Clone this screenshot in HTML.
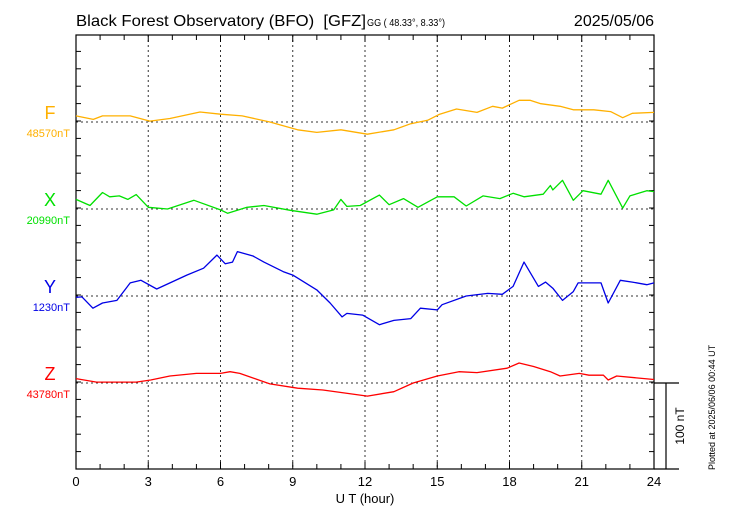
<!DOCTYPE html>
<html><head><meta charset="utf-8"><style>
html,body{margin:0;padding:0;background:#fff;}
svg{display:block;font-family:"Liberation Sans",sans-serif;}
</style></head><body>
<svg id="chart" width="730" height="520" viewBox="0 0 730 520">
<text x="76" y="26" font-size="16" textLength="290" lengthAdjust="spacingAndGlyphs" xml:space="preserve">Black Forest Observatory (BFO)  [GFZ]</text>
<text x="367" y="26" font-size="10" textLength="78" lengthAdjust="spacingAndGlyphs">GG ( 48.33°,  8.33°)</text>
<text x="654" y="26" font-size="16" text-anchor="end">2025/05/06</text>
<text x="365" y="503" font-size="13" text-anchor="middle">U T (hour)</text>
<text transform="translate(684,426) rotate(-90)" font-size="12" text-anchor="middle">100 nT</text>
<text transform="translate(715,470) rotate(-90)" font-size="9">Plotted at 2025/06/06 00:44 UT</text>
</svg>
<script>
const hoursF=[0,0.72,1.1,2.25,3.07,3.9,5.15,6,6.9,8.05,9.2,10,11,12.1,13.2,13.9,14.6,15.1,15.8,16.65,17.3,17.7,18.4,18.85,19.3,20.1,20.65,21.5,22.2,22.7,23.1,24];
const valsF=[7,3,7,7,1,4,11.5,9,7,0,-9,-12,-9,-14,-9,-2,2,9,15,11,18,16,25,25,21,18,14,14,12,5,10,11];
const hoursX=[0,0.58,1.1,1.4,1.8,2.15,2.5,3,3.8,4.9,6,6.3,7.1,7.8,8.9,10,10.7,11,11.25,11.8,12.6,13,13.6,14.2,15,15.7,16.2,16.9,17.6,18.15,18.6,19.4,19.7,19.8,20.2,20.65,21.05,21.8,22.1,22.7,23,23.7,24];
const valsX=[11,4,19,14,15,11,16.5,2,0,10,-1,-5,2,4,-1.5,-6,-1,11,3,4,16,5,12,2,14,14,3.5,15,12,18,14,17,27,22,33,10,21,17,33,1,15,21,20];
const hoursY=[0,0.25,0.7,1.1,1.7,2.25,2.7,3.35,4.6,5.3,5.85,6.2,6.5,6.7,7.35,7.8,8.6,9,10,10.55,11.05,11.25,11.9,12.6,13.2,13.9,14.3,15,15.2,16.2,17.1,17.7,18.15,18.6,19.2,19.5,19.8,20.2,20.65,20.85,21.8,22.1,22.6,23.1,23.7,24];
const valsY=[-1.5,-1,-14,-8,-5,15,18,8,24,32,47,37,39,51,46,39,28,24,7,-8,-24,-20,-22,-33,-28,-26,-14,-16,-10,0,3,2,11,39,11,16,9,-5,5,15,15,-8,18,16,13,15];
const hoursZ=[0,0.85,2.5,3.1,3.9,5,6,6.4,6.8,8.05,9.2,10.25,12.1,13.2,14,15,15.9,16.65,17.9,18.4,19,19.7,20.1,20.9,21.3,21.9,22.1,22.45,24];
const valsZ=[5,1,1,3.5,8,11,11,13,11,-1,-6,-8,-15,-10,0,8,13,12,17,23,19,13,8,11,9,9,3.5,8,4];
const xTickLabels=["0","3","6","9","12","15","18","21","24"];
const compNames=["F","X","Y","Z"];
const baseLabels=["48570nT","20990nT","1230nT","43780nT"];

const NS="http://www.w3.org/2000/svg";
const svg=document.getElementById('chart');
const L=76,R=654,T=35,B=469;
const baselines=[122,209,296,383];
const pxPerNT=0.87;
const xs=h=>L+(R-L)*h/24;
function mk(tag,attrs,parent){const e=document.createElementNS(NS,tag);for(const k in attrs)e.setAttribute(k,attrs[k]);(parent||svg).appendChild(e);return e;}

for(let h=3;h<24;h+=3){
  const g=mk('line',{x1:xs(h),x2:xs(h),y1:T,y2:B,stroke:'#333','stroke-width':1,'stroke-dasharray':'2,3'});
  
  
}
baselines.forEach(b=>{
  const g=mk('line',{x1:L,x2:R,y1:b,y2:b,stroke:'#333','stroke-width':1,'stroke-dasharray':'2,3'});
  
  
});
const fr=mk('rect',{x:L,y:T,width:R-L,height:B-T,fill:'none',stroke:'#000','stroke-width':1.2});


const ext1=mk('line',{x1:R,x2:679,y1:383,y2:383,stroke:'#000','stroke-width':1.2});


const ext2=mk('line',{x1:R,x2:679,y1:B,y2:B,stroke:'#000','stroke-width':1.2});


const sb=mk('line',{x1:666,x2:666,y1:383,y2:B,stroke:'#000','stroke-width':1.2});


for(let h=1;h<24;h++){
  const len=h%3===0?7:5;
  const t1=mk('line',{x1:xs(h),x2:xs(h),y1:T,y2:T+len,stroke:'#000'});
  
  
  const t2=mk('line',{x1:xs(h),x2:xs(h),y1:B,y2:B-len,stroke:'#000'});
  
  
}
for(let k=1;k<25;k++){
  const y=B-k*20*pxPerNT;
  if(y<=T+1)break;
  const a=mk('line',{x1:L,x2:L+5,y1:y,y2:y,stroke:'#000'});
  
  
  const b=mk('line',{x1:R,x2:R-5,y1:y,y2:y,stroke:'#000'});
  
  
}
xTickLabels.forEach((s,i)=>{
  const t=mk('text',{x:xs(i*3),y:486,'font-size':13,'text-anchor':'middle'});
  t.textContent=s;
  
  
});
const colors=['#ffb000','#00e000','#0000e6','#ff0000'];
const hs=[hoursF,hoursX,hoursY,hoursZ], vs=[valsF,valsX,valsY,valsZ];
const names=['series-f','series-x','series-y','series-z'];
for(let i=0;i<4;i++){
  const pts=hs[i].map((h,j)=>xs(h).toFixed(1)+','+(baselines[i]-vs[i][j]*pxPerNT).toFixed(1)).join(' ');
  const p=mk('polyline',{points:pts,fill:'none',stroke:colors[i],'stroke-width':1.3,'stroke-linejoin':'round'});
  
  
  const n=mk('text',{x:50,y:baselines[i]-3,'font-size':18,'text-anchor':'middle',fill:colors[i]});
  n.textContent=compNames[i];
  
  
  const bl=mk('text',{x:70,y:baselines[i]+15,'font-size':11,'text-anchor':'end',fill:colors[i]});
  bl.textContent=baseLabels[i];
  
  
}
</script>
</body></html>
